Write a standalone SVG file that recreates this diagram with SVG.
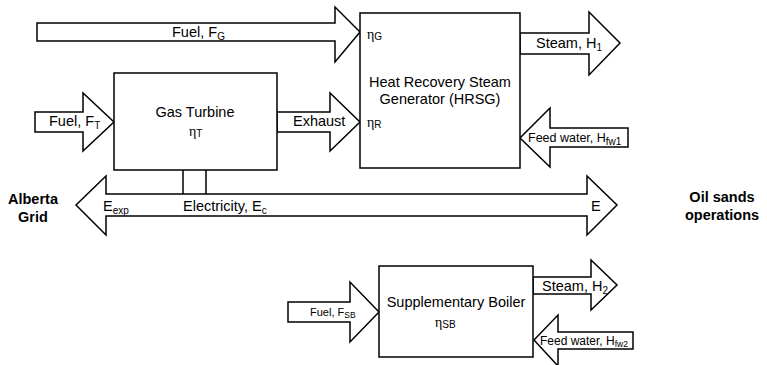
<svg xmlns="http://www.w3.org/2000/svg" width="767" height="365" viewBox="0 0 767 365">
<style>
.s{fill:#fff;stroke:#000;stroke-width:1.5;stroke-linejoin:miter}
.l{fill:none;stroke:#000;stroke-width:1.5}
text{font-family:"Liberation Sans",Arial,sans-serif;font-size:14.5px;fill:#000}
.b{font-weight:bold}
.m{text-anchor:middle}
.sm{font-size:12.5px}
.s12{font-size:12px}
.xs{font-size:11px}
.eta{font-family:"Liberation Serif","DejaVu Serif",serif;font-size:14px}
.sub{font-family:"Liberation Sans",Arial,sans-serif;font-size:10px}
.sub2{font-family:"Liberation Sans",Arial,sans-serif;font-size:8.5px}
</style>
<rect width="767" height="365" fill="#fff"/>
<g id="connectors">
<polygon id="fuelG" class="s" points="37,23 335,23 335,7 360,32 335,62 335,41 37,41"/>
<polygon id="fuelT" class="s" points="35,112 83,112 83,93 114,122 83,151 83,132 35,132"/>
<polygon id="exhaust" class="s" points="277,112 330,112 330,93 360,122 330,151 330,132 277,132"/>
<polygon id="steamH1" class="s" points="520,33 589,33 589,12 620,43 589,75 589,54 520,54"/>
<polygon id="fwH1" class="s" points="628,128 550,128 550,108 520,138 550,167 550,147 628,147"/>
<polygon id="elec" class="s" points="76,205 106,176 106,194 587,194 587,176 617,205 587,235 587,216 106,216 106,235"/>
<line class="l" x1="183" y1="170" x2="183" y2="194"/>
<line class="l" x1="206" y1="170" x2="206" y2="194"/>
<polygon id="fuelSB" class="s" points="288,302 350,302 350,282 379,312 350,342 350,322 288,322"/>
<polygon id="steamH2" class="s" points="533,277 591,277 591,260 617,285 591,310 591,294 533,294"/>
<polygon id="fwH2" class="s" points="633,332 558,332 558,315 534,340 558,366 558,349 633,349"/>
</g>
<g id="hrsg">
<rect class="s" x="360" y="13" width="160" height="155"/>
<text class="eta" x="367" y="39">η<tspan class="sub" dy="1">G</tspan></text>
<text class="m" x="440" y="87">Heat Recovery Steam</text>
<text class="m" x="440" y="104">Generator (HRSG)</text>
<text class="eta" x="367" y="127">η<tspan class="sub" dy="1">R</tspan></text>
</g>
<g id="gasTurbine">
<rect class="s" x="114" y="73" width="163" height="97"/>
<text class="m" x="195" y="117">Gas Turbine</text>
<text class="eta" x="189" y="136">η<tspan class="sub" dy="1">T</tspan></text>
</g>
<g id="boiler">
<rect class="s" x="379" y="266" width="154" height="91"/>
<text class="m" x="456" y="307">Supplementary Boiler</text>
<text class="eta" x="435" y="327">η<tspan class="sub" dy="1">SB</tspan></text>
</g>
<g id="grid">
<text class="b m" x="33" y="204">Alberta</text>
<text class="b m" x="33" y="222">Grid</text>
</g>
<g id="oilsands">
<text class="b m" x="722" y="202">Oil sands</text>
<text class="b m" x="722" y="220">operations</text>
</g>
<g id="labels">
<text x="172" y="37">Fuel, F<tspan class="sub" dy="3">G</tspan></text>
<text x="49" y="126">Fuel, F<tspan class="sub" dy="3">T</tspan></text>
<text x="293" y="126">Exhaust</text>
<text x="536" y="48">Steam, H<tspan class="sub" dy="3">1</tspan></text>
<text class="sm" x="528" y="142">Feed water, H<tspan class="sub" dy="3">fw1</tspan></text>
<text x="103" y="211">E<tspan class="sub" dy="3">exp</tspan></text>
<text x="183" y="211">Electricity, E<tspan class="sub" dy="3">c</tspan></text>
<text x="591" y="211">E</text>
<text class="xs" x="310" y="316">Fuel, F<tspan class="sub2" dy="2">SB</tspan></text>
<text x="542" y="291">Steam, H<tspan class="sub" dy="3">2</tspan></text>
<text class="s12" x="540" y="345">Feed water, H<tspan class="sub2" dy="2">fw2</tspan></text>
</g>
</svg>
